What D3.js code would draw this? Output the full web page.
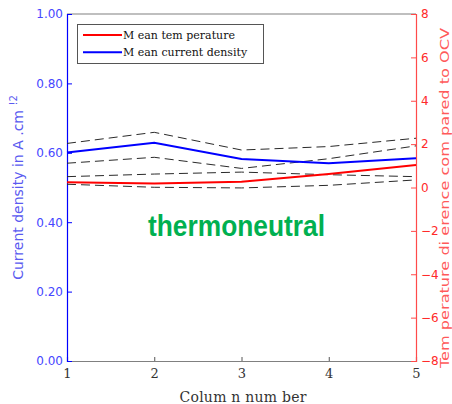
<!DOCTYPE html>
<html>
<head>
<meta charset="utf-8">
<script src="https://cdn.jsdelivr.net/npm/d3@7"></script>
<style>
  html, body { margin: 0; padding: 0; background: #fff; }
  svg { display: block; }
</style>
</head>
<body>
<svg id="chart" width="452" height="404"></svg>
<script>
// Column positions along the cell
const columns = [1, 2, 3, 4, 5];

// Current density (A.cm^-2), left axis
const currentMean  = [0.601, 0.629, 0.582, 0.570, 0.584];
const currentUpper = [0.627, 0.659, 0.608, 0.618, 0.642];
const currentLower = [0.570, 0.587, 0.555, 0.583, 0.620];

// Temperature difference compared to OCV, right axis
const tempMean  = [0.24, 0.19, 0.27, 0.62, 1.04];
const tempUpper = [0.50, 0.62, 0.71, 0.59, 0.50];
const tempLower = [0.15, 0.01, -0.02, 0.10, 0.35];

const leftTicks  = [0, 0.2, 0.4, 0.6, 0.8, 1.0];
const rightTicks = [-8, -6, -4, -2, 0, 2, 4, 6, 8];

const legendLabels = ["M ean tem perature", "M ean current density"];

const svg = d3.select("#chart");
const L = 67, R = 416, T = 14, B = 361;

const x  = d3.scaleLinear().domain([1, 5]).range([L, R]);
const yL = d3.scaleLinear().domain([0, 1]).range([B, T]);
const yR = d3.scaleLinear().domain([-8, 8]).range([B, T]);

// frame top
svg.append("line").attr("x1", L).attr("x2", R).attr("y1", T).attr("y2", T)
  .attr("stroke", "#808080").attr("stroke-width", 1.2);

// bottom axis
const gx = svg.append("g").attr("transform", `translate(0,${B})`)
  .call(d3.axisBottom(x).tickValues(columns).tickFormat(d3.format("d"))
    .tickSize(-4).tickPadding(8));
gx.select(".domain").attr("stroke", "#808080").attr("stroke-width", 1.2);
gx.selectAll(".tick line").attr("stroke", "#555");
gx.selectAll(".tick text").attr("fill", "#333")
  .style("font-family", "DejaVu Serif").style("font-size", "13px");

// left axis
const gl = svg.append("g").attr("transform", `translate(${L},0)`)
  .call(d3.axisLeft(yL).tickValues(leftTicks).tickFormat(d3.format(".2f"))
    .tickSize(-5).tickPadding(4));
gl.select(".domain").attr("stroke", "#0000ff").attr("stroke-width", 1.2);
gl.selectAll(".tick line").attr("stroke", "#0000ff");
gl.selectAll(".tick text").attr("fill", "#4646ff")
  .style("font-family", "DejaVu Sans").style("font-size", "12px");

// right axis
const gr = svg.append("g").attr("transform", `translate(${R},0)`)
  .call(d3.axisRight(yR).tickValues(rightTicks).tickSize(-5).tickPadding(5));
gr.select(".domain").attr("stroke", "#ff4a4a").attr("stroke-width", 1.2);
gr.selectAll(".tick line").attr("stroke", "#ff4a4a");
gr.selectAll(".tick text").attr("fill", "#ff2a2a")
  .style("font-family", "DejaVu Sans").style("font-size", "12px");

// series lines
const lineL = d3.line().x((d, i) => x(columns[i])).y(d => yL(d));
const lineR = d3.line().x((d, i) => x(columns[i])).y(d => yR(d));

[currentUpper, currentLower].forEach(s =>
  svg.append("path").datum(s).attr("d", lineL).attr("fill", "none")
    .attr("stroke", "#2a2a2a").attr("stroke-width", 1).attr("stroke-dasharray", "9,5"));
[tempUpper, tempLower].forEach(s =>
  svg.append("path").datum(s).attr("d", lineR).attr("fill", "none")
    .attr("stroke", "#2a2a2a").attr("stroke-width", 1).attr("stroke-dasharray", "9,5"));

svg.append("path").datum(tempMean).attr("d", lineR).attr("fill", "none")
  .attr("stroke", "#ff0000").attr("stroke-width", 2);
svg.append("path").datum(currentMean).attr("d", lineL).attr("fill", "none")
  .attr("stroke", "#0000ff").attr("stroke-width", 2);

// annotation
svg.append("text").attr("x", 236.5).attr("y", 236).attr("text-anchor", "middle")
  .attr("textLength", 177).attr("lengthAdjust", "spacingAndGlyphs")
  .style("font-family", "Liberation Sans, Arial, sans-serif").style("font-weight", "bold")
  .style("font-size", "30px").attr("fill", "#00b050").text("thermoneutral");

// legend
const lg = svg.append("g");
lg.append("rect").attr("x", 77.5).attr("y", 24.5).attr("width", 186).attr("height", 39)
  .attr("fill", "#fff").attr("stroke", "#555").attr("stroke-width", 1);
const legendColors = ["#ff0000", "#0000ff"];
legendLabels.forEach((lab, i) => {
  const yy = 35 + i * 17.3;
  lg.append("line").attr("x1", 83).attr("x2", 122).attr("y1", yy).attr("y2", yy)
    .attr("stroke", legendColors[i]).attr("stroke-width", 2);
  lg.append("text").attr("x", 123).attr("y", yy + 4)
    .style("font-family", "DejaVu Serif").style("font-size", "11px")
    .attr("fill", "#111").text(lab);
});

// axis titles
svg.append("text").attr("x", 243).attr("y", 402).attr("text-anchor", "middle")
  .attr("textLength", 127).attr("lengthAdjust", "spacing")
  .style("font-family", "DejaVu Serif").style("font-size", "14px")
  .attr("fill", "#333").text("Colum n num ber");

const lt = svg.append("text").attr("transform", "translate(23,187.5) rotate(-90)")
  .attr("text-anchor", "middle")
  .style("font-family", "DejaVu Sans").style("font-size", "14px")
  .attr("fill", "#5a5af0");
lt.append("tspan").text("Current density in A .cm ");
lt.append("tspan").attr("dy", -6).style("font-size", "10px").text("!2");

svg.append("text").attr("transform", "translate(449,198) rotate(-90)")
  .attr("text-anchor", "middle")
  .attr("textLength", 340).attr("lengthAdjust", "spacingAndGlyphs")
  .style("font-family", "DejaVu Sans").style("font-size", "12px")
  .attr("fill", "#ff5a5a").text("Tem perature di erence com pared to OCV");
</script>
</body>
</html>
